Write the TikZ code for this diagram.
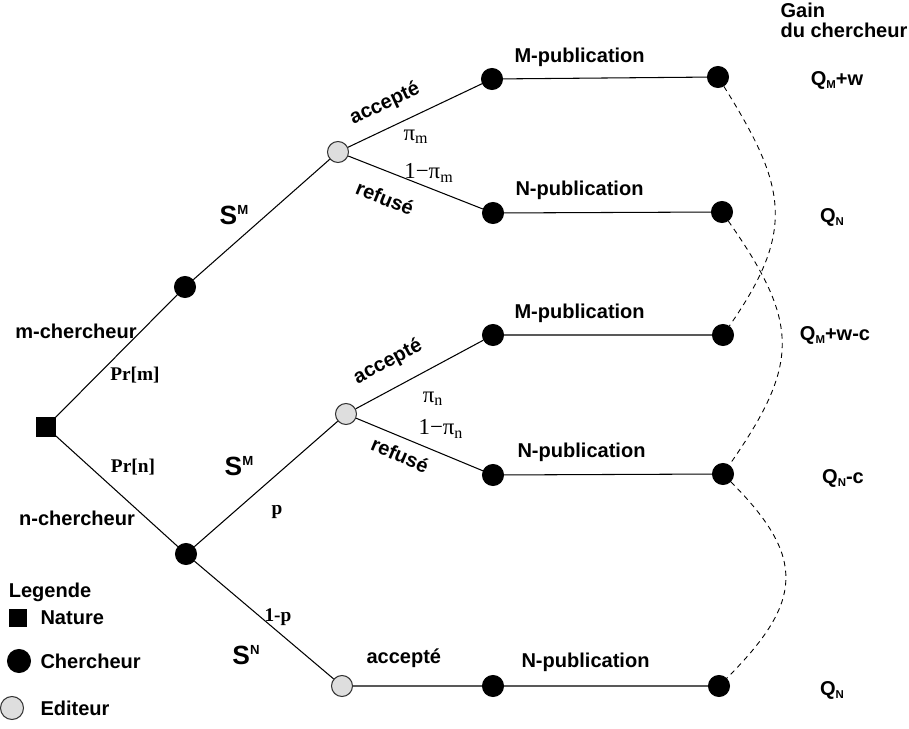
\documentclass[tikz,border=0pt]{standalone}
\usepackage{fontspec}
\setmainfont{Liberation Sans}
\newfontfamily\tmsf{Liberation Serif}
\usetikzlibrary{positioning}

% strategie S^M / S^N et gain Q_M
\newcommand\strat[1]{{\fontsize{15}{16}\selectfont S}\raisebox{5.2pt}{\fontsize{7.5}{8}\selectfont #1}}
\newcommand\gainq[2]{Q\raisebox{-1.8pt}{\fontsize{6.5}{7}\selectfont #1}#2}

\begin{document}
\begin{tikzpicture}[x=0.02cm,y=-0.02cm,line width=0.6pt,
  nat/.style={draw,fill=black,minimum size=0.36cm,inner sep=0pt},
  cher/.style={circle,draw,fill=black,minimum size=0.42cm,inner sep=0pt},
  edit/.style={circle,draw=black!80,fill=black!13,minimum size=0.42cm,inner sep=0pt},
  lbl/.style={font=\fontsize{11.4}{11.4}\selectfont\bfseries,inner sep=0pt},
  greek/.style={font=\fontsize{13}{14}\selectfont\tmsf,inner sep=0pt},
  prob/.style={font=\fontsize{11}{13}\selectfont\tmsf\bfseries,inner sep=0pt},
  info/.style={dashed,line width=0.5pt,dash pattern=on 3pt off 2.5pt}]
\useasboundingbox (0,0) rectangle (909,729);
% arbre
\node[nat] (root) at (46,427) {};
\node[cher] (c1) at (185,287) {};
\node[edit] (e1) at (338,152) {};
\node[cher] (a1) at (492,79) {};
\node[cher] (a2) at (493,213) {};
\node[cher] (t1) at (718,77) {};
\node[cher] (t2) at (722,212) {};
\node[cher] (c2) at (186,554) {};
\node[edit] (e2) at (346,414) {};
\node[cher] (a3) at (493,335) {};
\node[cher] (a4) at (493,475) {};
\node[cher] (t3) at (723,335) {};
\node[cher] (t4) at (723,474) {};
\node[edit] (e3) at (342,686) {};
\node[cher] (a5) at (493,686) {};
\node[cher] (t5) at (719,686) {};
\draw (root)--(c1)--(e1)--(a1)--(t1);
\draw (e1)--(a2)--(t2);
\draw (root)--(c2)--(e2)--(a3)--(t3);
\draw (e2)--(a4)--(t4);
\draw (c2)--(e3)--(a5)--(t5);
% ensembles d'information
\draw[info] (t1) to[out=-58,in=55,looseness=1.25] (t3);
\draw[info] (t2) to[out=-55,in=55,looseness=1.3] (t4);
\draw[info] (t4) to[out=-45,in=45,looseness=1.4] (t5);
% etiquettes
\node[lbl,anchor=base west] (mp1) at (514,63) {M-publication};
\node[lbl,anchor=base west] (np1) at (515,196) {N-publication};
\node[lbl,anchor=base west] (mp2) at (514,318) {M-publication};
\node[lbl,anchor=base west] (np2) at (517,457) {N-publication};
\node[lbl,anchor=base west] (np3) at (521,667) {N-publication};
\node[lbl,rotate=25] (acc1) at (385,104) {accepté};
\node[lbl,rotate=-22] (ref1) at (385,198) {refusé};
\node[greek] (pim) at (416,137) {π\textsubscript{m}};
\node[greek] (qim) at (429,173) {1−π\textsubscript{m}};
\node[lbl,rotate=28] (acc2) at (388,362) {accepté};
\node[greek] (pin) at (433,399) {π\textsubscript{n}};
\node[greek] (qin) at (441,429) {1−π\textsubscript{n}};
\node[lbl,rotate=-23] (ref2) at (400,455) {refusé};
\node[lbl,anchor=base west] (acc3) at (366,663) {accepté};
\node[lbl] (sm1) at (234,215) {\strat{M}};
\node[lbl] (mch) at (76,331) {m-chercheur};
\node[prob] (prm) at (135,375) {Pr[m]};
\node[prob] (prn) at (133,467) {Pr[n]};
\node[lbl] (nch) at (77,518) {n-chercheur};
\node[lbl] (sm2) at (239,466) {\strat{M}};
\node[prob] (pp) at (277,512) {p};
\node[prob] (qq) at (278,617) {1-p};
\node[lbl] (sn) at (246,655) {\strat{N}};
% gains
\node[lbl,align=left,anchor=north west] (gain) at (780,2) {Gain\\du chercheur};
\node[lbl] (g1) at (837,80) {\gainq{M}{+w}};
\node[lbl] (g2) at (832,217) {\gainq{N}{}};
\node[lbl] (g3) at (835,335) {\gainq{M}{+w-c}};
\node[lbl] (g4) at (843,478) {\gainq{N}{-c}};
\node[lbl] (g5) at (832,690) {\gainq{N}{}};
% legende
\node[lbl] (leg) at (50,592) {Legende};
\node[nat,minimum size=0.34cm] (lnat) at (18,618) {};
\node[lbl,anchor=west] (tnat) at (40,618) {Nature};
\node[cher,minimum size=0.46cm] (lch) at (19,661) {};
\node[lbl,anchor=west] (tch) at (40,661) {Chercheur};
\node[edit,minimum size=0.46cm] (led) at (12,708) {};
\node[lbl,anchor=west] (ted) at (40,708) {Editeur};
\end{tikzpicture}
\end{document}
